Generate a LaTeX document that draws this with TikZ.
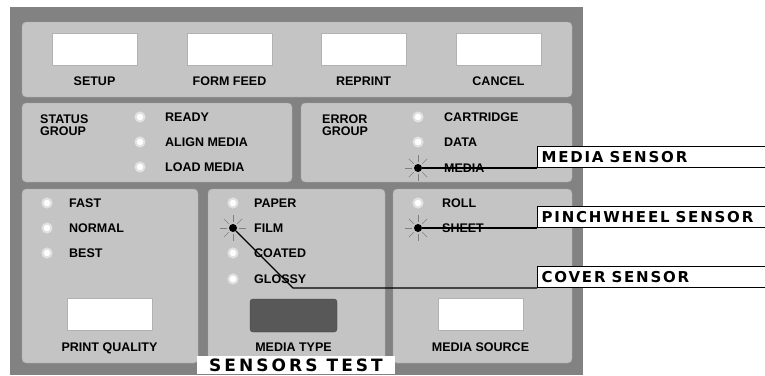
\documentclass[tikz,border=0pt]{standalone}
\usepackage{fontspec}
\setmainfont{Liberation Sans}
\newfontfamily\calloutfont[LetterSpace=12]{DejaVu Sans Bold}
\newfontfamily\bannerfont[LetterSpace=18]{DejaVu Sans Bold}
\usetikzlibrary{positioning}

\definecolor{casegray}{HTML}{828282}
\definecolor{panelgray}{HTML}{C4C4C4}
\definecolor{keydark}{HTML}{585858}

\begin{document}
\begin{tikzpicture}[x=1pt,y=-1pt,node distance=11pt]

        % 样式
        \tikzstyle{panel} = [fill=panelgray, draw=black!35, rounded corners=4pt]
        \tikzstyle{key} = [rectangle, minimum width=85pt, minimum height=32pt, inner sep=0, fill=white, draw=black!30]
        \tikzstyle{darkkey} = [rectangle, rounded corners=3pt, minimum width=87pt, minimum height=33pt, inner sep=0, fill=keydark, draw=black!75]
        \tikzstyle{keyname} = [inner sep=0, font=\bfseries\fontsize{12.5}{12}\selectfont]
        \tikzstyle{led} = [circle, minimum size=9pt, inner sep=0, fill=white, draw=white!50!panelgray, line width=2pt]
        \tikzstyle{ledon} = [circle, minimum size=8pt, inner sep=0, fill=black]
        \tikzstyle{ray} = [black!50, line width=0.6pt]
        \tikzstyle{ledtext} = [anchor=west, inner sep=0, align=left, font=\bfseries\fontsize{12.5}{12}\selectfont]
        \tikzstyle{callout} = [rectangle, anchor=south west, text width=230pt, align=left, inner xsep=4pt, minimum height=21pt, fill=white, draw=black, line width=1.2pt, font=\calloutfont\fontsize{15}{15}\selectfont]
        \tikzstyle{banner} = [rectangle, minimum width=198pt, minimum height=18pt, inner sep=0, fill=white, font=\bannerfont\fontsize{17}{17}\selectfont]
        \tikzstyle{wire} = [line width=1.2pt]

        \useasboundingbox (0,0) rectangle (765,375);

        % 外壳与面板
        \fill [casegray] (10,7) rectangle (583,375);
        \path [panel] (22,22) rectangle (572,97);
        \path [panel] (22,103) rectangle (292,182);
        \path [panel] (301,103) rectangle (572,182);
        \path [panel] (22,189) rectangle (198,363);
        \path [panel] (208,189) rectangle (385,363);
        \path [panel] (393,189) rectangle (572,363);

        % 按键
        \node (setup) [key] at (94.5,49) {};
        \node (formfeed) [key] at (229.5,49) {};
        \node (reprint) [key] at (363.5,49) {};
        \node (cancel) [key] at (498.5,49) {};
        \node (setuptxt) [keyname, below=of setup] {SETUP};
        \node (formfeedtxt) [keyname, below=of formfeed] {FORM FEED};
        \node (reprinttxt) [keyname, below=of reprint] {REPRINT};
        \node (canceltxt) [keyname, below=of cancel] {CANCEL};

        \node (quality) [key] at (109.5,314.5) {};
        \node (mediatype) [darkkey] at (293.5,315.5) {};
        \node (source) [key] at (480.5,314.5) {};
        \node (qualitytxt) [keyname, below=12pt of quality] {PRINT QUALITY};
        \node (mediatypetxt) [keyname, below=10pt of mediatype] {MEDIA TYPE};
        \node (sourcetxt) [keyname, below=12pt of source] {MEDIA SOURCE};

        % 状态组
        \node (status) [ledtext, anchor=north west] at (40,115) {STATUS\\GROUP};
        \node (ready) [led] at (140,117) {};
        \node (align) [led] at (140,142) {};
        \node (load) [led] at (140,167) {};
        \node (readytxt) [ledtext] at (165,117) {READY};
        \node (aligntxt) [ledtext] at (165,142) {ALIGN MEDIA};
        \node (loadtxt) [ledtext] at (165,167) {LOAD MEDIA};

        % 错误组
        \node (error) [ledtext, anchor=north west] at (322,115) {ERROR\\GROUP};
        \node (cartridge) [led] at (418,117) {};
        \node (data) [led] at (418,142) {};
        \node (media) [ledon] at (418,168) {};
        \node (cartridgetxt) [ledtext] at (444,117) {CARTRIDGE};
        \node (datatxt) [ledtext] at (444,142) {DATA};
        \node (mediatxt) [ledtext] at (444,168) {MEDIA};

        % 打印质量
        \node (fast) [led] at (47,203) {};
        \node (normal) [led] at (47,228) {};
        \node (best) [led] at (47,253) {};
        \node (fasttxt) [ledtext] at (69,203) {FAST};
        \node (normaltxt) [ledtext] at (69,228) {NORMAL};
        \node (besttxt) [ledtext] at (69,253) {BEST};

        % 介质类型
        \node (paper) [led] at (233,203) {};
        \node (film) [ledon] at (233,228) {};
        \node (coated) [led] at (233,253) {};
        \node (glossy) [led] at (233,279) {};
        \node (papertxt) [ledtext] at (254,203) {PAPER};
        \node (filmtxt) [ledtext] at (254,228) {FILM};
        \node (coatedtxt) [ledtext] at (254,253) {COATED};
        \node (glossytxt) [ledtext] at (254,279) {GLOSSY};

        % 介质来源
        \node (roll) [led] at (418,203) {};
        \node (sheet) [ledon] at (418,228) {};
        \node (rolltxt) [ledtext] at (442,203) {ROLL};
        \node (sheettxt) [ledtext] at (442,228) {SHEET};

        % 亮灯的光芒
        \foreach \a in {0,45,...,315} {
            \draw [ray] (media.center) ++(\a:6pt) -- ++(\a:7pt);
            \draw [ray] (film.center) ++(\a:6pt) -- ++(\a:7pt);
            \draw [ray] (sheet.center) ++(\a:6pt) -- ++(\a:7pt);
        }

        % 传感器标注
        \node (mediasensor) [callout] at (537,168) {MEDIA\hspace{6pt}SENSOR};
        \node (pinchsensor) [callout] at (537,228) {PINCHWHEEL\hspace{6pt}SENSOR};
        \node (coversensor) [callout] at (537,288) {COVER\hspace{6pt}SENSOR};
        \coordinate (bend) at (293,288);

        \draw [wire] (media) -- (mediasensor.south west);
        \draw [wire] (sheet) -- (pinchsensor.south west);
        \draw [wire] (film) -- (bend) -- (coversensor.south west);

        \node (sensorstest) [banner] at (296,365) {SENSORS TEST};

    \end{tikzpicture}
\end{document}
